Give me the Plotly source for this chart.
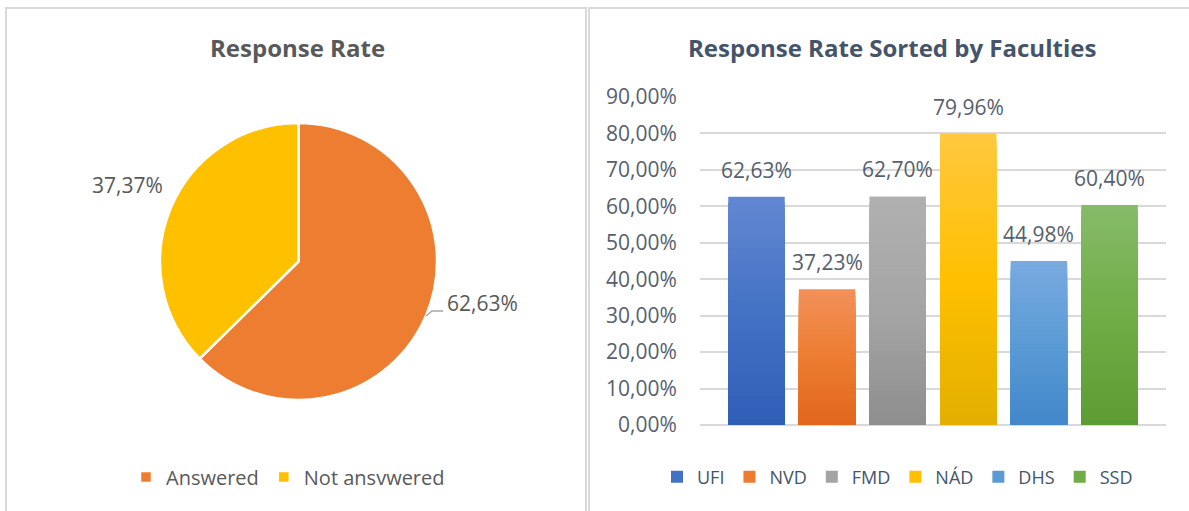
import plotly.graph_objects as go

# ---------------- data ----------------
pie_labels = ["Answered", "Not ansvwered"]
pie_values = [62.63, 37.37]
pie_colors = ["#ED7D31", "#FFC000"]

faculties = ["UFI", "NVD", "FMD", "NÁD", "DHS", "SSD"]
rates = [0.6263, 0.3723, 0.6270, 0.7996, 0.4498, 0.6040]

# gradient styling (top, middle, bottom) per faculty
grad_top = ["#6388D2", "#F2905A", "#B0B0B0", "#FFC83F", "#78AADF", "#86BB69"]
grad_mid = ["#4472C4", "#ED7D31", "#A5A5A5", "#FFC000", "#5B9BD5", "#70AD47"]
grad_bot = ["#2F5EB6", "#E0661A", "#8E8E8E", "#E3AF00", "#4187CA", "#5C9D32"]

N_STEPS = 40


def hex2rgb(h):
    h = h.lstrip("#")
    return [int(h[i:i + 2], 16) for i in (0, 2, 4)]


def lerp(c1, c2, t):
    a, b = hex2rgb(c1), hex2rgb(c2)
    return "rgb({},{},{})".format(*[round(a[i] + (b[i] - a[i]) * t) for i in range(3)])


def grad(i, t):
    if t < 0.5:
        return lerp(grad_top[i], grad_mid[i], t / 0.5)
    return lerp(grad_mid[i], grad_bot[i], (t - 0.5) / 0.5)


def pct_text(v):
    return f"{v:.2f}%".replace(".", ",")


W, H = 1189, 511


def px(x):
    return x / W


def py(y):
    return 1 - y / H


fig = go.Figure()

# ---------------- pie ----------------
fig.add_trace(go.Pie(
    labels=pie_labels, values=pie_values,
    marker=dict(colors=pie_colors, line=dict(color="white", width=2.5)),
    sort=False, direction="clockwise", rotation=0,
    textinfo="none",
    domain=dict(x=[px(160), px(437)], y=[py(400), py(123)]),
    legend="legend", hoverinfo="label+percent",
))

total = sum(pie_values)
pie_pcts = [v / total * 100 for v in pie_values]
# outside data labels of the pie
fig.add_annotation(
    x=px(445), y=py(303), xref="paper", yref="paper", showarrow=False,
    xanchor="left", yanchor="middle", text=pct_text(pie_pcts[0]),
    font=dict(family="Open Sans", size=21, color="#595959"),
)
fig.add_annotation(
    x=px(165), y=py(185), xref="paper", yref="paper", showarrow=False,
    xanchor="right", yanchor="middle", text=pct_text(pie_pcts[1]),
    font=dict(family="Open Sans", size=21, color="#595959"),
)
# leader line of the "Answered" label
fig.add_shape(
    type="path", xref="paper", yref="paper",
    path=f"M {px(426)},{py(316)} L {px(432)},{py(311)} L {px(443)},{py(311)}",
    line=dict(color="#A6A6A6", width=1.5),
)

# ---------------- bars (gradient built from overlaid bars) ----------------
for i, (fac, val) in enumerate(zip(faculties, rates)):
    for k in range(N_STEPS):
        h = val * (1 - k / N_STEPS)
        t = (k + 0.5) / N_STEPS
        fig.add_trace(go.Bar(
            x=[fac], y=[h], width=0.80,
            marker=dict(color=grad(i, t), line=dict(width=0)),
            name=fac, legendgroup=fac,
            showlegend=(k == N_STEPS // 2),
            legend="legend2",
            hoverinfo="x+y" if k == 0 else "skip",
        ))
    fig.add_annotation(
        x=fac, y=val, xref="x", yref="y",
        text=pct_text(val * 100),
        showarrow=False, yshift=27,
        font=dict(family="Open Sans", size=21, color="#56606E"),
    )

fig.update_layout(
    width=W, height=H,
    margin=dict(l=0, r=0, t=0, b=0, autoexpand=False),
    paper_bgcolor="white", plot_bgcolor="white",
    separators=", ",
    barmode="overlay",
    font=dict(family="Open Sans", color="#595959"),
    xaxis=dict(
        domain=[px(700), px(1166)],
        categoryorder="array", categoryarray=faculties,
        range=[-0.8, 5.8],
        showticklabels=False, showgrid=False, zeroline=False, showline=False,
        fixedrange=True,
    ),
    yaxis=dict(
        domain=[py(425), py(97)],
        range=[0, 0.9], dtick=0.1, tick0=0,
        tickformat=".2%",
        showgrid=True, gridcolor="#D9D9D9", gridwidth=1.5,
        zeroline=True, zerolinecolor="#D9D9D9", zerolinewidth=1.5,
        showline=False,
        ticks="outside", ticklen=18, tickcolor="rgba(0,0,0,0)",
        tickfont=dict(family="Open Sans", size=21, color="#56606E"),
        fixedrange=True,
    ),
    legend=dict(
        orientation="h", x=px(126), xanchor="left", y=py(477), yanchor="middle",
        font=dict(family="Open Sans", size=20, color="#595959"),
        itemwidth=30, bgcolor="rgba(0,0,0,0)",
    ),
    legend2=dict(
        orientation="h", x=px(657), xanchor="left", y=py(477), yanchor="middle",
        font=dict(family="Open Sans", size=18, color="#44546A"),
        itemwidth=30, bgcolor="rgba(0,0,0,0)", traceorder="normal",
    ),
    showlegend=True,
)

# titles
fig.add_annotation(
    x=px(297), y=py(47), xref="paper", yref="paper", showarrow=False,
    xanchor="center", yanchor="middle",
    text="<b>Response Rate</b>",
    font=dict(family="Open Sans", size=24, color="#595959"),
)
fig.add_annotation(
    x=px(892), y=py(47), xref="paper", yref="paper", showarrow=False,
    xanchor="center", yanchor="middle",
    text="<b>Response Rate Sorted by Faculties</b>",
    font=dict(family="Open Sans", size=24, color="#44546A"),
)

# panel borders
fig.add_shape(type="rect", xref="paper", yref="paper",
              x0=px(6), x1=px(586), y0=py(515), y1=py(8),
              line=dict(color="#D9D9D9", width=2), fillcolor="rgba(0,0,0,0)", layer="below")
fig.add_shape(type="rect", xref="paper", yref="paper",
              x0=px(589), x1=px(1195), y0=py(515), y1=py(8),
              line=dict(color="#D9D9D9", width=2), fillcolor="rgba(0,0,0,0)", layer="below")

fig.write_html("out.html", config={"displayModeBar": False},
               post_script="document.body.style.margin='0';")
